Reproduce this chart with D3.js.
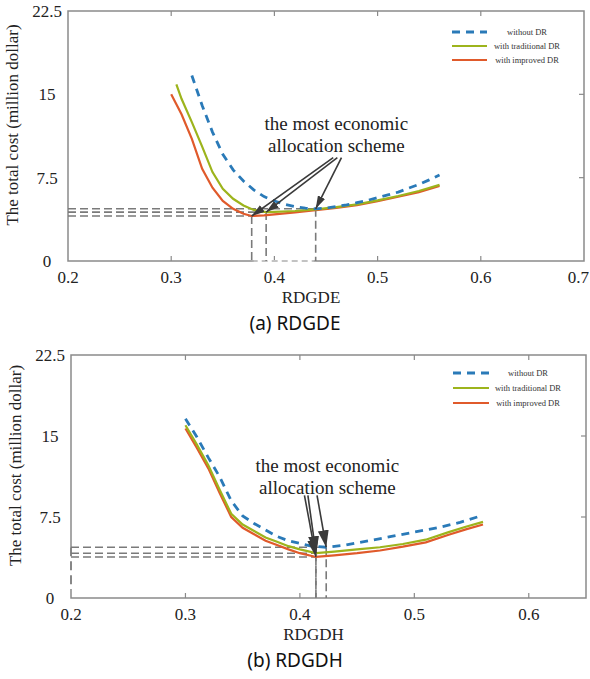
<!DOCTYPE html>
<html>
<head>
<meta charset="utf-8">
<script src="https://cdn.jsdelivr.net/npm/d3@7"></script>
<style>
  body { margin: 0; background: #fff; }
  svg { display: block; }
  .tick-label, .axis-title, .note { font-family: "Liberation Serif", "Times New Roman", serif; fill: #222; }
  .legend-text { font-family: "Liberation Serif", serif; font-size: 8.5px; fill: #333; }
  .caption { font-family: "Noto Sans", "Liberation Sans", sans-serif; font-size: 19px; fill: #111; }
</style>
</head>
<body>
<div id="chart"></div>
<script>
// === data ===
const seriesNames = ["without DR", "with traditional DR", "with improved DR"];

// (a) RDGDE
const aBlueX  = [0.32, 0.33, 0.34, 0.35, 0.36, 0.37, 0.38, 0.39, 0.40, 0.41, 0.42, 0.43, 0.44, 0.45, 0.46, 0.47, 0.48, 0.49, 0.50, 0.51, 0.52, 0.53, 0.54, 0.55, 0.56];
const aBlueY  = [16.7, 14.0, 11.6, 9.6, 8.2, 7.2, 6.4, 5.8, 5.4, 5.1, 4.9, 4.75, 4.7, 4.75, 4.9, 5.05, 5.25, 5.45, 5.7, 5.95, 6.2, 6.55, 6.9, 7.3, 7.75];
const aGreenX = [0.305, 0.31, 0.32, 0.33, 0.34, 0.35, 0.36, 0.37, 0.38, 0.392, 0.40, 0.42, 0.44, 0.46, 0.48, 0.50, 0.52, 0.54, 0.56];
const aGreenY = [15.9, 14.6, 12.5, 10.3, 8.0, 6.5, 5.6, 5.0, 4.6, 4.4, 4.42, 4.5, 4.65, 4.85, 5.1, 5.45, 5.85, 6.3, 6.85];
const aRedX   = [0.30, 0.31, 0.32, 0.33, 0.34, 0.35, 0.36, 0.37, 0.378, 0.39, 0.40, 0.42, 0.44, 0.46, 0.48, 0.50, 0.52, 0.54, 0.56];
const aRedY   = [15.0, 13.2, 11.0, 8.3, 6.6, 5.4, 4.7, 4.25, 4.05, 4.1, 4.2, 4.38, 4.58, 4.78, 5.03, 5.38, 5.78, 6.2, 6.75];

// (b) RDGDH
const bBlueX  = [0.30, 0.31, 0.32, 0.33, 0.34, 0.35, 0.36, 0.37, 0.38, 0.39, 0.40, 0.41, 0.423, 0.44, 0.46, 0.48, 0.50, 0.52, 0.54, 0.555];
const bBlueY  = [16.6, 14.9, 13.0, 11.2, 9.0, 7.6, 6.9, 6.3, 5.7, 5.3, 5.05, 4.8, 4.7, 4.9, 5.3, 5.7, 6.1, 6.5, 7.0, 7.5];
const bGreenX = [0.30, 0.31, 0.32, 0.33, 0.34, 0.35, 0.36, 0.37, 0.38, 0.39, 0.40, 0.414, 0.43, 0.45, 0.47, 0.49, 0.51, 0.53, 0.545, 0.56];
const bGreenY = [16.0, 14.2, 12.3, 10.0, 7.8, 6.8, 6.2, 5.6, 5.2, 4.8, 4.5, 4.15, 4.3, 4.5, 4.7, 5.0, 5.4, 6.1, 6.6, 7.05];
const bRedX   = [0.30, 0.31, 0.32, 0.33, 0.34, 0.35, 0.36, 0.37, 0.38, 0.39, 0.40, 0.414, 0.43, 0.45, 0.47, 0.49, 0.51, 0.53, 0.545, 0.56];
const bRedY   = [15.7, 13.9, 12.0, 9.7, 7.5, 6.5, 5.9, 5.3, 4.9, 4.5, 4.15, 3.8, 3.95, 4.15, 4.4, 4.75, 5.15, 5.85, 6.35, 6.8];

const yTicks = [0, 7.5, 15, 22.5];
const aXTicks = [0.2, 0.3, 0.4, 0.5, 0.6, 0.7];
const bXTicks = [0.2, 0.3, 0.4, 0.5, 0.6];

const colors = ["#2a7ab8", "#9db41c", "#e05a2b"];
const gridGray = "#7a7a7a";

const svg = d3.select("#chart").append("svg")
    .attr("width", 590)
    .attr("height", 679);

const defs = svg.append("defs");

function arrowMarker(id, w, l) {
    defs.append("marker")
        .attr("id", id)
        .attr("markerUnits", "userSpaceOnUse")
        .attr("viewBox", `0 ${-w / 2} ${l} ${w}`)
        .attr("refX", l).attr("refY", 0)
        .attr("markerWidth", l).attr("markerHeight", w)
        .attr("orient", "auto")
        .append("path")
        .attr("d", `M0,${-w / 2}L${l},0L0,${w / 2}Z`)
        .attr("fill", "#3a3a3a");
}
arrowMarker("headA", 8, 13);
arrowMarker("headB", 11, 17);

function drawPanel(cfg) {
    const x = d3.scaleLinear().domain(cfg.xDomain).range([cfg.left, cfg.right]);
    const y = d3.scaleLinear().domain([0, 22.5]).range([cfg.bottom, cfg.top]);
    const g = svg.append("g");

    const series = cfg.xs.map((xs, i) => xs.map((v, j) => ({ x: v, y: cfg.ys[i][j] })));
    const mins = series.map(s => s[d3.minIndex(s, d => d.y)]);

    // frame + inner ticks
    g.append("rect")
        .attr("x", cfg.left).attr("y", cfg.top)
        .attr("width", cfg.right - cfg.left).attr("height", cfg.bottom - cfg.top)
        .attr("fill", "none").attr("stroke", "#8a8a8a").attr("stroke-width", 1.5);

    const inner = cfg.xTicks.slice(1, cfg.xTicks.length - (cfg.xDomain[1] === cfg.xTicks[cfg.xTicks.length - 1] ? 1 : 0));
    inner.forEach(t => {
        g.append("line").attr("x1", x(t)).attr("x2", x(t)).attr("y1", cfg.bottom).attr("y2", cfg.bottom - 5)
            .attr("stroke", "#8a8a8a").attr("stroke-width", 1.2);
        g.append("line").attr("x1", x(t)).attr("x2", x(t)).attr("y1", cfg.top).attr("y2", cfg.top + 5)
            .attr("stroke", "#8a8a8a").attr("stroke-width", 1.2);
    });
    yTicks.slice(1, -1).forEach(t => {
        g.append("line").attr("x1", cfg.right).attr("x2", cfg.right - 5).attr("y1", y(t)).attr("y2", y(t))
            .attr("stroke", "#8a8a8a").attr("stroke-width", 1.2);
    });

    // frame pieces that look dashed in the original
    if (cfg.dashBottom) {
        const xs = d3.extent(mins, d => d.x);
        g.append("line").attr("x1", x(xs[0]) + 2).attr("x2", x(xs[1]) - 2)
            .attr("y1", cfg.bottom).attr("y2", cfg.bottom)
            .attr("stroke", "#fff").attr("stroke-width", 2);
        g.append("line").attr("x1", x(xs[0])).attr("x2", x(xs[1]))
            .attr("y1", cfg.bottom).attr("y2", cfg.bottom)
            .attr("stroke", "#b0b0b0").attr("stroke-width", 1.4).attr("stroke-dasharray", "6,4");
    }
    if (cfg.dashLeft) {
        const top = d3.max(mins, d => d.y);
        g.append("line").attr("x1", cfg.left).attr("x2", cfg.left)
            .attr("y1", y(top)).attr("y2", cfg.bottom - 8)
            .attr("stroke", "#fff").attr("stroke-width", 2);
        g.append("line").attr("x1", cfg.left).attr("x2", cfg.left)
            .attr("y1", y(top)).attr("y2", cfg.bottom - 8)
            .attr("stroke", "#555").attr("stroke-width", 1.4).attr("stroke-dasharray", "9,5");
    }

    // tick labels
    const lastX = cfg.xTicks[cfg.xTicks.length - 1];
    g.selectAll(".xl").data(cfg.xTicks).enter().append("text")
        .attr("class", "tick-label")
        .attr("x", d => d === lastX && lastX === cfg.xDomain[1] ? x(d) + 5 : x(d))
        .attr("y", cfg.bottom + 22)
        .attr("text-anchor", d => d === lastX && lastX === cfg.xDomain[1] ? "end" : "middle")
        .attr("font-size", 17)
        .text(d => d.toFixed(1));
    g.selectAll(".yl").data(yTicks).enter().append("text")
        .attr("class", "tick-label")
        .attr("x", cfg.left - 21).attr("y", d => y(d) + 6)
        .attr("text-anchor", "middle").attr("font-size", 17)
        .text(d => d);

    g.append("text").attr("class", "axis-title")
        .attr("x", (cfg.left + cfg.right) / 2 - 15).attr("y", cfg.bottom + 42)
        .attr("text-anchor", "middle").attr("font-size", 17)
        .text(cfg.xTitle);
    g.append("text").attr("class", "axis-title")
        .attr("transform", `translate(${cfg.left - 50},${(cfg.top + cfg.bottom) / 2 - 11}) rotate(-90)`)
        .attr("text-anchor", "middle").attr("font-size", 17)
        .text("The total cost (million dollar)");

    g.append("text").attr("class", "caption")
        .attr("x", 295).attr("y", cfg.bottom + 69)
        .attr("text-anchor", "middle")
        .text(cfg.caption);

    // dashed guides to each minimum
    const guide = { stroke: gridGray, "stroke-width": 1.6, "stroke-dasharray": "8,4" };
    mins.forEach(m => {
        const h = g.append("line").attr("x1", cfg.left).attr("x2", x(m.x)).attr("y1", y(m.y)).attr("y2", y(m.y));
        const v = g.append("line").attr("x1", x(m.x)).attr("x2", x(m.x)).attr("y1", y(m.y)).attr("y2", cfg.bottom);
        Object.entries(guide).forEach(([k, val]) => { h.attr(k, val); v.attr(k, val); });
    });

    // curves (red first, blue on top)
    const line = d3.line().x(d => x(d.x)).y(d => y(d.y));
    [2, 1, 0].forEach(i => {
        g.append("path")
            .datum(series[i])
            .attr("d", line)
            .attr("fill", "none")
            .attr("stroke", colors[i])
            .attr("stroke-width", i === 0 ? 2.8 : 2.2)
            .attr("stroke-dasharray", i === 0 ? "8,6" : null);
    });

    // annotation
    g.append("text").attr("class", "note")
        .attr("x", x(cfg.note[0])).attr("y", y(cfg.note[1]))
        .attr("text-anchor", "middle").attr("font-size", 19)
        .selectAll("tspan").data(["the most economic", "allocation scheme"]).enter()
        .append("tspan")
        .attr("x", x(cfg.note[0]))
        .attr("dy", (d, i) => i ? 22 : 0)
        .text(d => d);

    [2, 1, 0].forEach(i => {
        g.append("line")
            .attr("x1", x(cfg.tails[i])).attr("y1", y(cfg.tailY))
            .attr("x2", x(mins[i].x)).attr("y2", y(mins[i].y))
            .attr("stroke", "#3a3a3a").attr("stroke-width", 1.6)
            .attr("marker-end", `url(#${cfg.head})`);
    });

    // legend
    cfg.legendRows.forEach((ry, i) => {
        g.append("line")
            .attr("x1", cfg.legendX[0]).attr("x2", cfg.legendX[1])
            .attr("y1", ry).attr("y2", ry)
            .attr("stroke", colors[i]).attr("stroke-width", i === 0 ? 2.8 : 2.2)
            .attr("stroke-dasharray", i === 0 ? "8,6" : null);
        g.append("text").attr("class", "legend-text")
            .attr("x", cfg.legendX[2]).attr("y", ry + 3)
            .attr("text-anchor", "middle")
            .text(seriesNames[i]);
    });
}

drawPanel({
    left: 68, right: 584, top: 11, bottom: 261,
    xDomain: [0.2, 0.7], xTicks: aXTicks,
    xs: [aBlueX, aGreenX, aRedX], ys: [aBlueY, aGreenY, aRedY],
    xTitle: "RDGDE", caption: "(a) RDGDE",
    note: [0.46, 11.8], tails: [0.465, 0.461, 0.457], tailY: 9.3, head: "headA",
    legendRows: [32, 46, 60], legendX: [452, 487, 527],
    dashBottom: true
});

drawPanel({
    left: 71, right: 586, top: 355, bottom: 598,
    xDomain: [0.2, 0.65], xTicks: bXTicks,
    xs: [bBlueX, bGreenX, bRedX], ys: [bBlueY, bGreenY, bRedY],
    xTitle: "RDGDH", caption: "(b) RDGDH",
    note: [0.424, 11.7], tails: [0.415, 0.407, 0.404], tailY: 9.5, head: "headB",
    legendRows: [373, 388, 403], legendX: [453, 489, 528],
    dashLeft: true
});
</script>
</body>
</html>
